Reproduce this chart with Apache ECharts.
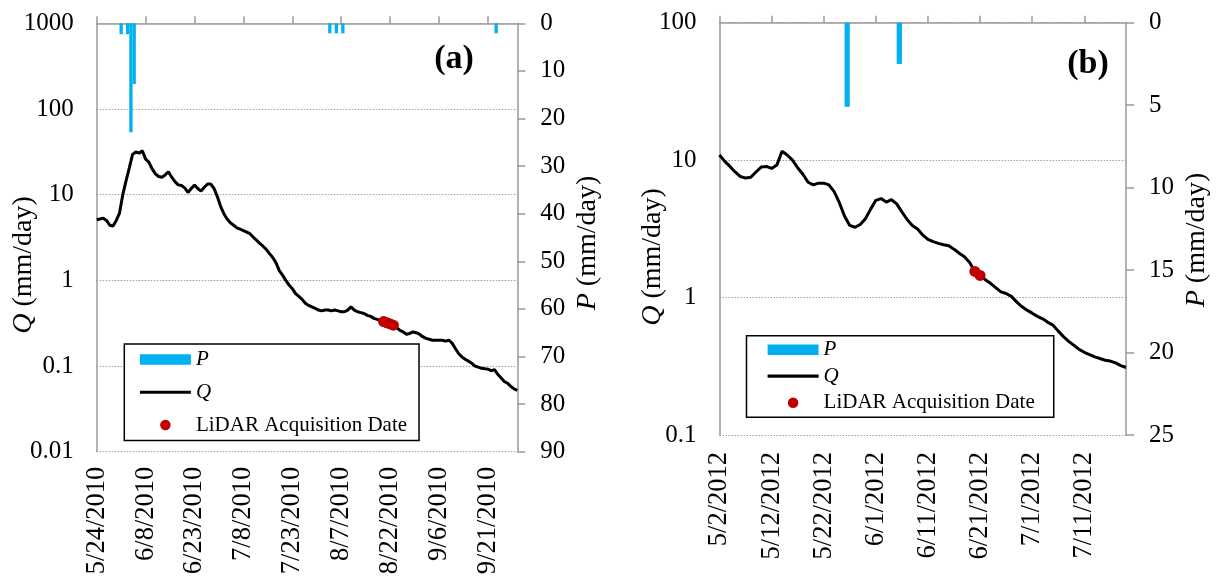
<!DOCTYPE html>
<html>
<head>
<meta charset="utf-8">
<script src="https://cdn.jsdelivr.net/npm/echarts@6/dist/echarts.min.js"></script>
<style>
  html, body { margin: 0; padding: 0; background: #fff; }
  #main { width: 1216px; height: 580px; }
</style>
</head>
<body>
<div id="main"></div>
<script>
// ---- Panel (a): 2010 season, daily discharge Q and precipitation P ----
const startA = '5/24/2010';
const endDayA = 129;              // 9/30/2010
const qA = [
  5.1, 5.2, 5.3, 5.0, 4.4, 4.3, 5.0, 6.1, 10.0, 14.5,
  20.5, 29.5, 31.5, 30.5, 32.5, 26.0, 24.0, 20.0, 17.5, 16.3,
  16.0, 17.0, 18.5, 16.0, 14.2, 13.0, 12.8, 12.0, 10.6, 11.8,
  13.0, 11.8, 11.0, 12.2, 13.3, 13.3, 11.8, 9.5, 7.3, 6.0,
  5.2, 4.7, 4.4, 4.1, 3.95, 3.8, 3.65, 3.5, 3.2, 2.95,
  2.7, 2.5, 2.3, 2.05, 1.85, 1.6, 1.3, 1.15, 1.0, 0.88,
  0.8, 0.7, 0.65, 0.6, 0.54, 0.51, 0.49, 0.47, 0.45, 0.44,
  0.45, 0.45, 0.44, 0.45, 0.44, 0.43, 0.43, 0.45, 0.49, 0.45,
  0.43, 0.42, 0.41, 0.39, 0.38, 0.36, 0.35, 0.34, 0.33, 0.32,
  0.31, 0.30, 0.28, 0.26, 0.25, 0.235, 0.24, 0.25, 0.245, 0.235,
  0.22, 0.21, 0.205, 0.2, 0.2, 0.2, 0.2, 0.195, 0.2, 0.185,
  0.16, 0.14, 0.128, 0.12, 0.114, 0.108, 0.1, 0.097, 0.094, 0.093,
  0.092, 0.088, 0.091, 0.08, 0.073, 0.066, 0.063, 0.058, 0.054, 0.052
];
const pDatesA = ['5/31/2010', '6/2/2010', '6/3/2010', '6/4/2010', '8/3/2010', '8/5/2010', '8/7/2010', '9/23/2010'];
const pValsA  = [2.3, 2.3, 22.9, 12.75, 2.1, 2.1, 2.1, 2.1];
const lidarDatesA = ['8/20/2010', '8/21/2010', '8/22/2010', '8/23/2010'];
const lidarValsA  = [0.33, 0.32, 0.31, 0.30];

// ---- Panel (b): 2012 season ----
const startB = '5/2/2012';
const endDayB = 78;               // 7/19/2012
const qB = [
  10.9, 9.8, 9.0, 8.2, 7.6, 7.4, 7.5, 8.2, 8.9, 9.0,
  8.7, 9.2, 11.6, 10.9, 10.0, 8.8, 7.9, 6.9, 6.6, 6.8,
  6.8, 6.6, 5.9, 4.9, 3.9, 3.35, 3.25, 3.4, 3.75, 4.4,
  5.1, 5.25, 4.95, 5.15, 4.8, 4.2, 3.7, 3.35, 3.15, 2.85,
  2.65, 2.55, 2.48, 2.42, 2.38, 2.25, 2.1, 1.98, 1.8, 1.55,
  1.45, 1.35, 1.27, 1.18, 1.1, 1.07, 1.02, 0.93, 0.86, 0.81,
  0.77, 0.73, 0.7, 0.66, 0.63, 0.57, 0.52, 0.48, 0.45, 0.42,
  0.40, 0.385, 0.37, 0.36, 0.35, 0.345, 0.335, 0.32, 0.31
];
const pDatesB = ['5/26/2012', '6/5/2012'];
const pValsB  = [5.1, 2.5];
const lidarDatesB = ['6/20/2012', '6/21/2012'];
const lidarValsB  = [1.55, 1.45];

// Legend entries and panel tags
const legendNames = ['P', 'Q', 'LiDAR Acquisition Date'];
const panelLabels = ['(a)', '(b)'];

// ---- helpers: M/D/YYYY strings <-> day offsets ----
const DAY = 86400000;
function toMs(s) { const [m, d, y] = s.split('/').map(Number); return Date.UTC(y, m - 1, d); }
function dayIndex(s, start) { return Math.round((toMs(s) - toMs(start)) / DAY); }
function dateLabel(start, n) {
  const t = new Date(toMs(start) + n * DAY);
  return (t.getUTCMonth() + 1) + '/' + t.getUTCDate() + '/' + t.getUTCFullYear();
}

const FONT = '"Times New Roman", "Liberation Serif", serif';
const AXIS_GRAY = '#9a9a9a';
const BLUE = '#00b0f0';
const RED = '#c00000';

function logLabel(v) { return String(Number(Number(v).toPrecision(3))); }

function xAxisFor(grid, start, maxDay, step, labelMargin) {
  return {
    gridIndex: grid, type: 'value', min: 0, max: maxDay, interval: step,
    axisLine: { lineStyle: { color: AXIS_GRAY, width: 1.5 } },
    axisTick: { show: true, inside: true, length: 7, lineStyle: { color: AXIS_GRAY, width: 1.5 } },
    splitLine: { show: false },
    axisLabel: {
      rotate: 90, margin: labelMargin, color: '#000', fontFamily: FONT, fontSize: 26.5,
      showMaxLabel: false,
      formatter: v => (v % step === 0 ? dateLabel(start, v) : '')
    }
  };
}

function qAxisFor(grid, min, max, splits) {
  return {
    gridIndex: grid, type: 'log', logBase: 10, min: min, max: max, splitNumber: splits,
    position: 'left',
    axisLine: { show: true, lineStyle: { color: AXIS_GRAY, width: 1.5 } },
    axisTick: { show: false },
    splitLine: { show: true, lineStyle: { color: '#a0a0a0', type: [1.5, 1.5], width: 1 } },
    axisLabel: { margin: 23, color: '#000', fontFamily: FONT, fontSize: 25, formatter: logLabel }
  };
}

function pAxisFor(grid, max, step) {
  return {
    gridIndex: grid, type: 'value', min: 0, max: max, interval: step, inverse: true,
    position: 'right',
    axisLine: { show: true, lineStyle: { color: AXIS_GRAY, width: 1.5 } },
    axisTick: { show: true, inside: false, length: 8, lineStyle: { color: AXIS_GRAY, width: 1.5 } },
    splitLine: { show: false },
    axisLabel: { margin: 23, color: '#000', fontFamily: FONT, fontSize: 25 }
  };
}

function seriesFor(k, start, q, pDates, pVals, lDates, lVals, barW) {
  return [
    {
      name: 'P', type: 'bar', xAxisIndex: k, yAxisIndex: 2 * k + 1,
      barWidth: barW, itemStyle: { color: BLUE },
      data: pDates.map((s, i) => [dayIndex(s, start) + 0.5, pVals[i]]),
      z: 2
    },
    {
      name: 'Q', type: 'line', xAxisIndex: k, yAxisIndex: 2 * k,
      symbol: 'none', showSymbol: false,
      lineStyle: { color: '#000', width: 3 }, itemStyle: { color: 'rgba(0,0,0,0)' },
      data: q.map((v, i) => [i, v]),
      z: 3
    },
    {
      name: 'LiDAR Acquisition Date', type: 'scatter', xAxisIndex: k, yAxisIndex: 2 * k,
      symbol: 'circle', symbolSize: 11, itemStyle: { color: RED, opacity: 1 },
      data: lDates.map((s, i) => [dayIndex(s, start), lVals[i]]),
      z: 4
    }
  ];
}

function legendFor(left, top, gap, padding) {
  return {
    left: left, top: top, orient: 'vertical',
    data: [
      { name: legendNames[0], icon: 'rect' },
      { name: legendNames[1], itemStyle: { opacity: 0 }, lineStyle: { color: '#000', width: 3.2 } },
      { name: legendNames[2], icon: 'circle', itemStyle: { color: RED, opacity: 1 } }
    ],
    itemWidth: 51, itemHeight: 10.5, itemGap: gap,
    padding: padding,
    borderColor: '#000', borderWidth: 1.5,
    backgroundColor: '#fff',
    selectedMode: false,
    formatter: n => (n.length === 1 ? '{i|' + n + '}' : n),
    textStyle: {
      color: '#000', fontFamily: FONT, fontSize: 21, lineHeight: 20,
      rich: { i: { fontStyle: 'italic', fontFamily: FONT, fontSize: 21, lineHeight: 20 } }
    }
  };
}

function vTitle(x, y, text) {
  return {
    type: 'text', x: x, y: y, rotation: Math.PI / 2,
    style: {
      text: text, fontFamily: FONT, fontSize: 28, fill: '#000',
      align: 'center', verticalAlign: 'middle',
      rich: { i: { fontStyle: 'italic', fontFamily: FONT, fontSize: 28 } }
    }
  };
}

const chart = echarts.init(document.getElementById('main'), null, { renderer: 'canvas' });

chart.setOption({
  animation: false,
  backgroundColor: '#fff',
  grid: [
    { left: 96.7, top: 23.3, width: 420.6, height: 428.4 },
    { left: 719.5, top: 22.7, width: 406.5, height: 412.3 }
  ],
  xAxis: [
    xAxisFor(0, startA, endDayA, 15, 15),
    xAxisFor(1, startB, endDayB, 10, 17)
  ],
  yAxis: [
    qAxisFor(0, 0.01, 1000, 5),
    pAxisFor(0, 90, 10),
    qAxisFor(1, 0.1, 100, 3),
    pAxisFor(1, 25, 5)
  ],
  legend: [
    legendFor(124.3, 344, 11.75, [5, 12, 5, 14]),
    legendFor(746.5, 335.7, 5.5, [3.5, 19, 4, 19.5])
  ],
  series: [].concat(
    seriesFor(0, startA, qA, pDatesA, pValsA, lidarDatesA, lidarValsA, 3.3),
    seriesFor(1, startB, qB, pDatesB, pValsB, lidarDatesB, lidarValsB, 5.2)
  ),
  graphic: [
    vTitle(24, 265, '{i|Q} (mm/day)'),
    vTitle(588, 243, '{i|P} (mm/day)'),
    vTitle(653, 257, '{i|Q} (mm/day)'),
    vTitle(1197, 240, '{i|P} (mm/day)'),
    {
      type: 'text', x: 454, y: 59,
      style: { text: panelLabels[0], fontFamily: FONT, fontSize: 34, fontWeight: 'bold', fill: '#000', align: 'center', verticalAlign: 'middle' }
    },
    {
      type: 'text', x: 1088, y: 64,
      style: { text: panelLabels[1], fontFamily: FONT, fontSize: 34, fontWeight: 'bold', fill: '#000', align: 'center', verticalAlign: 'middle' }
    }
  ]
});
</script>
</body>
</html>
